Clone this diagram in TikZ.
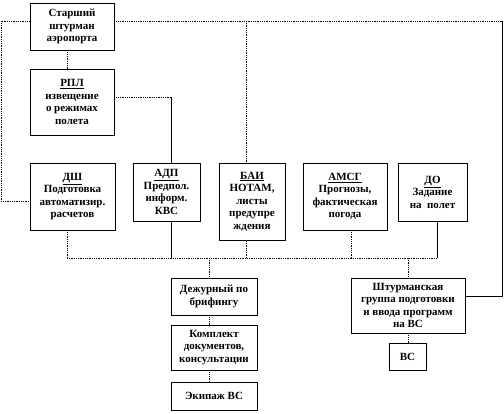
\documentclass[tikz,border=0pt]{standalone}
\usepackage{fontspec}
\setmainfont{Liberation Serif}
\begin{document}
\begin{tikzpicture}[x=1pt,y=-1pt,
  box/.style={draw=black,line width=0.7pt,fill=white,align=center,inner sep=1pt,
    font=\bfseries\fontsize{11}{12.5}\selectfont},
  dotl/.style={line width=0.8pt,densely dotted},
  sol/.style={line width=0.8pt}]
\useasboundingbox (0,0) rectangle (504,413);
% boxes
\node[box,minimum width=84,minimum height=47] (st) at (72,26.5) {Старший\\штурман\\аэропорта};
\node[box,minimum width=84,minimum height=66] (rpl) at (72,102) {\underline{РПЛ}\\извещение\\о режимах\\полета};
\node[box,minimum width=85,minimum height=67] (dsh) at (72.5,196.5) {\underline{ДШ}\\Подготовка\\автоматизир.\\расчетов};
\node[box,minimum width=67,minimum height=58] (adp) at (166.5,192) {\underline{АДП}\\Предпол.\\информ.\\КВС};
\node[box,minimum width=66,minimum height=77] (bai) at (252,201.5) {\underline{БАИ}\\НОТАМ,\\листы\\предупре\\ждения};
\node[box,minimum width=84,minimum height=67] (amsg) at (345,196.5) {\underline{АМСГ}\\Прогнозы,\\фактическая\\погода};
\node[box,minimum width=69,minimum height=58] (do) at (432.5,192) {\underline{ДО}\\Задание\\на\ \ полет};
\node[box,minimum width=86,minimum height=37] (duty) at (214,296.5) {Дежурный по\\брифингу};
\node[box,minimum width=86,minimum height=45] (kompl) at (214,347.5) {Комплект\\документов,\\консультации};
\node[box,minimum width=86,minimum height=28] (ekip) at (214,396) {Экипаж ВС};
\node[box,minimum width=114,minimum height=55] (shtg) at (408,305.5) {Штурманская\\группа подготовки\\и ввода программ\\на ВС};
\node[box,minimum width=37,minimum height=27] (vs) at (407.5,356.5) {ВС};
% helper coordinates
\coordinate (tl) at (1,21);
\coordinate (tr) at (502,21);
\coordinate (tm) at (246,21);
\coordinate (ld) at (1,201);
\coordinate (rs) at (502,296);
\coordinate (rp) at (171,97);
\coordinate (c1) at (67,0);
\coordinate (b1) at (67,258);
\coordinate (b2) at (171,258);
\coordinate (b3) at (246,258);
\coordinate (b4) at (351,258);
\coordinate (b5) at (437,258);
\coordinate (bd) at (209,258);
\coordinate (bs) at (408,258);
% top and side lines
\draw[dotl] (st.west |- tl) -- (tl) -- (ld) -- (dsh.west |- ld);
\draw[dotl] (st.east |- tr) -- (tr);
\draw[sol] (tr) -- (rs) -- (shtg.east |- rs);
\draw[dotl] (tm) -- (tm |- bai.north);
\draw[dotl] (c1 |- st.south) -- (c1 |- rpl.north);
\draw[dotl] (rpl.east |- rp) -- (rp);
\draw[sol] (rp) -- (rp |- adp.north);
% bus
\draw[dotl] (b1) -- (b5);
\draw[dotl] (b1) -- (b1 |- dsh.south);
\draw[sol] (b2) -- (b2 |- adp.south);
\draw[dotl] (b3) -- (b3 |- bai.south);
\draw[dotl] (b4) -- (b4 |- amsg.south);
\draw[sol] (b5) -- (b5 |- do.south);
\draw[dotl] (bd) -- (bd |- duty.north);
\draw[dotl] (bs) -- (bs |- shtg.north);
\draw[dotl] (bd |- duty.south) -- (bd |- kompl.north);
\draw[dotl] (bd |- kompl.south) -- (bd |- ekip.north);
\draw[dotl] (bs |- shtg.south) -- (bs |- vs.north);
\end{tikzpicture}
\end{document}
